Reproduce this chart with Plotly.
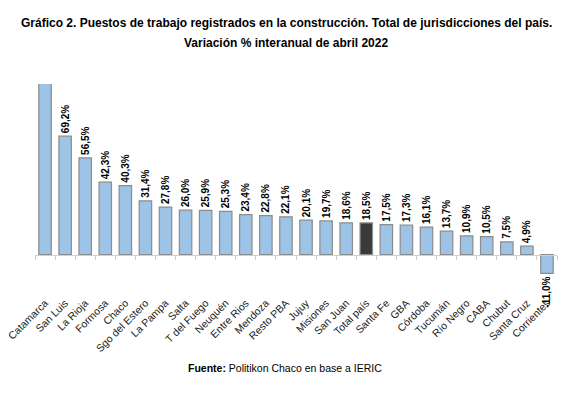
import plotly.graph_objects as go

# Datos: variación % interanual de abril 2022
provincias = [
    "Catamarca", "San Luis", "La Rioja", "Formosa", "Chaco", "Sgo del Estero",
    "La Pampa", "Salta", "T del Fuego", "Neuquén", "Entre Rios", "Mendoza",
    "Resto PBA", "Jujuy", "Misiones", "San Juan", "Total país", "Santa Fe",
    "GBA", "Córdoba", "Tucumán", "Río Negro", "CABA", "Chubut", "Santa Cruz",
    "Corrientes",
]
variacion = [
    105.0, 69.2, 56.5, 42.3, 40.3, 31.4, 27.8, 26.0, 25.9, 25.3, 23.4, 22.8,
    22.1, 20.1, 19.7, 18.6, 18.5, 17.5, 17.3, 16.1, 13.7, 10.9, 10.5, 7.5,
    4.9, -11.0,
]
# Catamarca sale del área del gráfico, sin etiqueta
etiquetas = [""] + [f"{v:.1f}%".replace(".", ",") for v in variacion[1:]]

y_min, y_max = -12.5, 99.7
colores = ["#3a3a3a" if p == "Total país" else "#9dc3e6" for p in provincias]

# la página agrega 8px de margen al body
OFF = 8
W, H = 583, 407
M_L, M_R, M_T, M_B = 35 - OFF, 26 + OFF, 84 - OFF, 131 + OFF
plot_w, plot_h = W - M_L - M_R, H - M_T - M_B


def px_x(px):
    return (px - OFF - M_L) / plot_w


def px_y(py):
    return (H - M_B - (py - OFF)) / plot_h


fig = go.Figure()
# barras (recortadas al área del gráfico)
fig.add_trace(go.Bar(
    x=provincias, y=variacion,
    marker=dict(color=colores, line=dict(color="#8c8c8c", width=1.2)),
    cliponaxis=True, hoverinfo="x+y", showlegend=False,
))
# etiquetas de valor (sin recortar)
fig.add_trace(go.Bar(
    x=provincias, y=variacion,
    marker=dict(color="rgba(0,0,0,0)", line=dict(width=0)),
    text=etiquetas, textposition="outside", textangle=-90,
    constraintext="none", cliponaxis=False,
    textfont=dict(family="Liberation Sans, Arial", size=10, color="black", weight="bold"),
    hoverinfo="skip", showlegend=False,
))
# eje auxiliar en el cero (línea y marcas)
fig.add_trace(go.Scatter(
    x=provincias, y=[0] * len(provincias), xaxis="x2", mode="markers",
    marker=dict(opacity=0), hoverinfo="skip", showlegend=False,
))

zero_pos = (0 - y_min) / (y_max - y_min)
x_range = [-0.5, len(provincias) - 0.5]

fig.update_layout(
    width=W, height=H,
    margin=dict(l=M_L, r=M_R, t=M_T, b=M_B, autoexpand=False),
    paper_bgcolor="white", plot_bgcolor="white",
    bargap=0.38, barmode="overlay",
    font=dict(family="Liberation Sans, Arial", size=10, color="black"),
    xaxis=dict(
        type="category", categoryorder="array", categoryarray=provincias,
        range=x_range, tickangle=-45, showline=False, showgrid=False, ticks="",
        automargin=False, tickfont=dict(size=10.5, color="#222222"),
        ticklabelstandoff=18,
    ),
    xaxis2=dict(
        type="category", categoryorder="array", categoryarray=provincias,
        range=x_range, overlaying="x", anchor="free", position=zero_pos,
        showline=True, linecolor="#d0d0d0", linewidth=1,
        ticks="outside", tickson="boundaries", ticklen=4, tickcolor="#d0d0d0",
        showticklabels=False, showgrid=False, automargin=False,
    ),
    yaxis=dict(range=[y_min, y_max], visible=False, showgrid=False, zeroline=False,
               automargin=False),
    annotations=[
        dict(text="<b>Gráfico 2. Puestos de trabajo registrados en la construcción. Total de jurisdicciones del país.</b>",
             x=px_x(286), y=px_y(23), xref="paper", yref="paper", yanchor="middle",
             showarrow=False, font=dict(size=12)),
        dict(text="<b>Variación % interanual de abril 2022</b>",
             x=px_x(286), y=px_y(43), xref="paper", yref="paper", yanchor="middle",
             showarrow=False, font=dict(size=12)),
        dict(text="<b>Fuente:</b> Politikon Chaco en base a IERIC",
             x=px_x(284.5), y=px_y(368), xref="paper", yref="paper", yanchor="middle",
             showarrow=False, font=dict(size=10.5)),
    ],
)

fig.write_html("out.html")
